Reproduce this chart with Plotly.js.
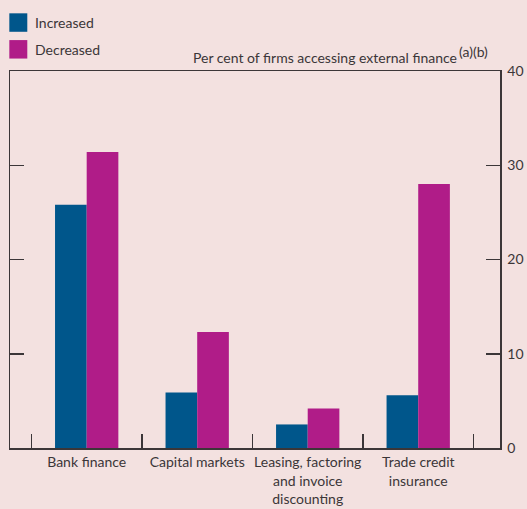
<!DOCTYPE html>
<html>
<head>
<meta charset="utf-8">
<script src="https://cdn.plot.ly/plotly-3.0.1.min.js"></script>
<style>html,body{margin:0;padding:0;background:#f3e1e0;}</style>
</head>
<body>
<div id="chart" style="width:527px;height:509px;"></div>
<script>
const categories = ["Bank finance", "Capital markets", "Leasing, factoring<br>and invoice<br>discounting", "Trade credit<br>insurance"];
const increased = [25.8, 5.9, 2.5, 5.6];
const decreased = [31.4, 12.3, 4.2, 28.0];
const yTicks = [0, 10, 20, 30, 40];
const seriesNames = ["Increased", "Decreased"];
const colors = ["#00568b", "#b01c88"];
const textColor = "#3b3638";
const fontFamily = "Lato, Open Sans, sans-serif";

const traces = [
  {type: "bar", name: seriesNames[0], x: categories, y: increased, marker: {color: colors[0]}, showlegend: false, hoverinfo: "skip"},
  {type: "bar", name: seriesNames[1], x: categories, y: decreased, marker: {color: colors[1]}, showlegend: false, hoverinfo: "skip"}
];

const layout = {
  width: 527, height: 509,
  margin: {l: 10, r: 27, t: 71, b: 61, pad: 0},
  paper_bgcolor: "#f3e1e0",
  plot_bgcolor: "#f3e1e0",
  font: {family: fontFamily, size: 14, color: textColor},
  barmode: "group",
  bargap: 0.427,
  bargroupgap: 0,
  xaxis: {
    type: "category",
    range: [-0.694, 3.74],
    tickson: "boundaries",
    ticks: "inside",
    ticklen: 14,
    tickwidth: 1.5,
    tickcolor: "#3b3638",
    tickangle: 0,
    showline: true, linecolor: "#3b3638", linewidth: 1.5,
    mirror: true,
    showgrid: false, zeroline: false,
    ticklabelstandoff: 1,
    tickfont: {size: 14, color: textColor, family: fontFamily},
    fixedrange: true
  },
  yaxis: {
    side: "right",
    range: [0, 40],
    tickvals: yTicks,
    ticktext: yTicks.map(String),
    ticks: "inside",
    ticklen: 14,
    tickwidth: 1.5,
    tickcolor: "#3b3638",
    showline: true, linecolor: "#3b3638", linewidth: 1.5,
    mirror: "ticks",
    showgrid: false, zeroline: false,
    ticklabelstandoff: 3,
    tickfont: {size: 14, color: textColor, family: fontFamily},
    fixedrange: true
  },
  shapes: [
    {type: "rect", xref: "paper", yref: "paper", x0: -0.0014, x1: 0.0353, y0: 1.104, y1: 1.153, fillcolor: colors[0], line: {width: 0}},
    {type: "rect", xref: "paper", yref: "paper", x0: -0.0014, x1: 0.0353, y0: 1.033, y1: 1.082, fillcolor: colors[1], line: {width: 0}}
  ],
  annotations: [
    {xref: "paper", yref: "paper", x: 0.046, y: 1.1285, xanchor: "left", yanchor: "middle", text: seriesNames[0], showarrow: false, font: {size: 14, color: textColor}},
    {xref: "paper", yref: "paper", x: 0.046, y: 1.0575, xanchor: "left", yanchor: "middle", text: seriesNames[1], showarrow: false, font: {size: 14, color: textColor}},
    {xref: "paper", yref: "paper", x: 0.914, y: 1.0345, xanchor: "right", yanchor: "middle", borderpad: 0, text: "Per cent of firms accessing external finance", showarrow: false, font: {size: 14, color: textColor}},
    {xref: "paper", yref: "paper", x: 0.915, y: 1.052, xanchor: "left", yanchor: "middle", borderpad: 0, text: "(a)(b)", showarrow: false, font: {size: 14, color: textColor}}
  ]
};

Plotly.newPlot("chart", traces, layout, {staticPlot: true, displayModeBar: false});
</script>
</body>
</html>
